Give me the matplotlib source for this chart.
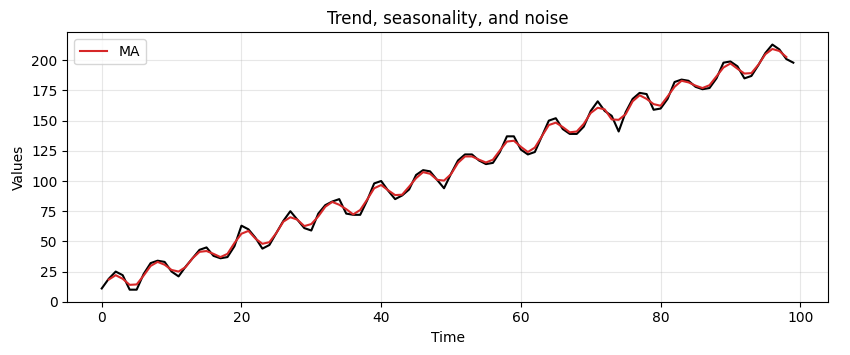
import matplotlib
matplotlib.use("Agg")
import matplotlib.pyplot as plt
import pandas as pd

# values
time = list(range(100))
values = [11, 19, 25, 22, 10, 10, 23, 32, 34, 33,
          25, 21, 29, 36, 43, 45, 38, 36, 37, 46,
          63, 60, 53, 44, 47, 57, 67, 75, 68, 61,
          59, 73, 80, 83, 85, 73, 72, 72, 84, 98,
          100, 92, 85, 88, 93, 105, 109, 108, 101, 94,
          106, 117, 122, 122, 117, 114, 115, 124, 137, 137,
          126, 122, 124, 137, 150, 152, 143, 139, 139, 145,
          158, 166, 158, 154, 141, 157, 168, 173, 172, 159,
          160, 168, 182, 184, 183, 178, 176, 177, 185, 198,
          199, 195, 185, 187, 196, 206, 213, 209, 201, 198]

s = pd.Series(values, index=time)
ma = s.rolling(3, center=True).mean()

fig, ax = plt.subplots(figsize=(8.5, 3.55), dpi=100)
fig.subplots_adjust(left=0.079, right=0.974, top=0.909, bottom=0.150)

ax.plot(s.index, s.values, color="black", lw=1.5)
ax.plot(ma.index, ma.values, color="tab:red", lw=1.5, label="MA")
ax.set_ylim(bottom=0)
ax.grid(True, alpha=0.3)
ax.set_title("Trend, seasonality, and noise")
ax.set_xlabel("Time")
ax.set_ylabel("Values")
ax.legend(loc="upper left")

plt.savefig("out.png")
